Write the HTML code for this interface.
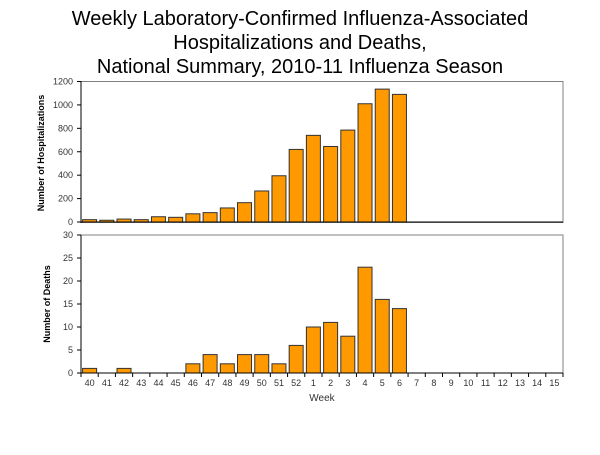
<!DOCTYPE html><html><head><style>body{margin:0;background:#fff}</style></head><body>
<svg width="600" height="450" xmlns="http://www.w3.org/2000/svg" font-family="Liberation Sans, sans-serif">
<g font-size="20" text-anchor="middle" fill="#000">
<text x="300" y="25">Weekly Laboratory-Confirmed Influenza-Associated</text>
<text x="300" y="49">Hospitalizations and Deaths,</text>
<text x="300" y="73">National Summary, 2010-11 Influenza Season</text>
</g>
<rect x="81" y="81.5" width="482" height="141" fill="none" stroke="#808080"/>
<rect x="81" y="235" width="482" height="138" fill="none" stroke="#808080"/>
<g id="bars"></g>
<g font-size="9" fill="#333" id="labels"></g>
<text font-size="9" font-weight="bold" transform="translate(44,153) rotate(-90)" text-anchor="middle">Number of Hospitalizations</text>
<text font-size="9" font-weight="bold" transform="translate(50,304) rotate(-90)" text-anchor="middle">Number of Deaths</text>
<text x="322" y="401" font-size="10" fill="#333" text-anchor="middle">Week</text>
<line x1="81" y1="81" x2="81" y2="223" stroke="#000"/>
<line x1="81" y1="235" x2="81" y2="377" stroke="#000"/>
<line x1="77" y1="373" x2="563" y2="373" stroke="#000"/>
<line x1="77" y1="222" x2="563" y2="222" stroke="#000"/>
<g id="ticks" stroke="#000"></g>
</svg>
<script>
var ns="http://www.w3.org/2000/svg";
function el(p,t,a,txt){var e=document.createElementNS(ns,t);for(var k in a)e.setAttribute(k,a[k]);if(txt!=null)e.textContent=txt;document.getElementById(p).appendChild(e);}
var h=[20,15,25,20,45,40,70,80,120,165,265,395,620,740,645,785,1010,1135,1090];
var d=[1,0,1,0,0,0,2,4,2,4,4,2,6,10,11,8,23,16,14];
var w=482/28;
var weeks=[];for(var i=40;i<=52;i++)weeks.push(i);for(i=1;i<=15;i++)weeks.push(i);
for(i=0;i<19;i++){
 var x=81+i*w+1.6;
 var bh=h[i]/1200*140.5; if(bh>0)el("bars","rect",{x:x,y:222-bh,width:14,height:bh,fill:"#FF9900",stroke:"#333","stroke-width":1});
 bh=d[i]/30*138; if(bh>0)el("bars","rect",{x:x,y:373-bh,width:14,height:bh,fill:"#FF9900",stroke:"#333","stroke-width":1});
}
for(i=0;i<28;i++){el("labels","text",{x:81+(i+0.5)*w,y:386,"text-anchor":"middle"},weeks[i]);}
for(i=0;i<=28;i++){var x=81+i*w;el("ticks","line",{x1:x,x2:x,y1:373,y2:377});}
for(i=0;i<=6;i++){var y=222-i*140.5/6;el("labels","text",{x:73,y:y+3,"text-anchor":"end"},i*200);el("ticks","line",{x1:77,x2:81,y1:y,y2:y});}
for(i=0;i<=6;i++){var y=373-i*23;el("labels","text",{x:73,y:y+3,"text-anchor":"end"},i*5);el("ticks","line",{x1:77,x2:81,y1:y,y2:y});}
</script>
</body></html>
